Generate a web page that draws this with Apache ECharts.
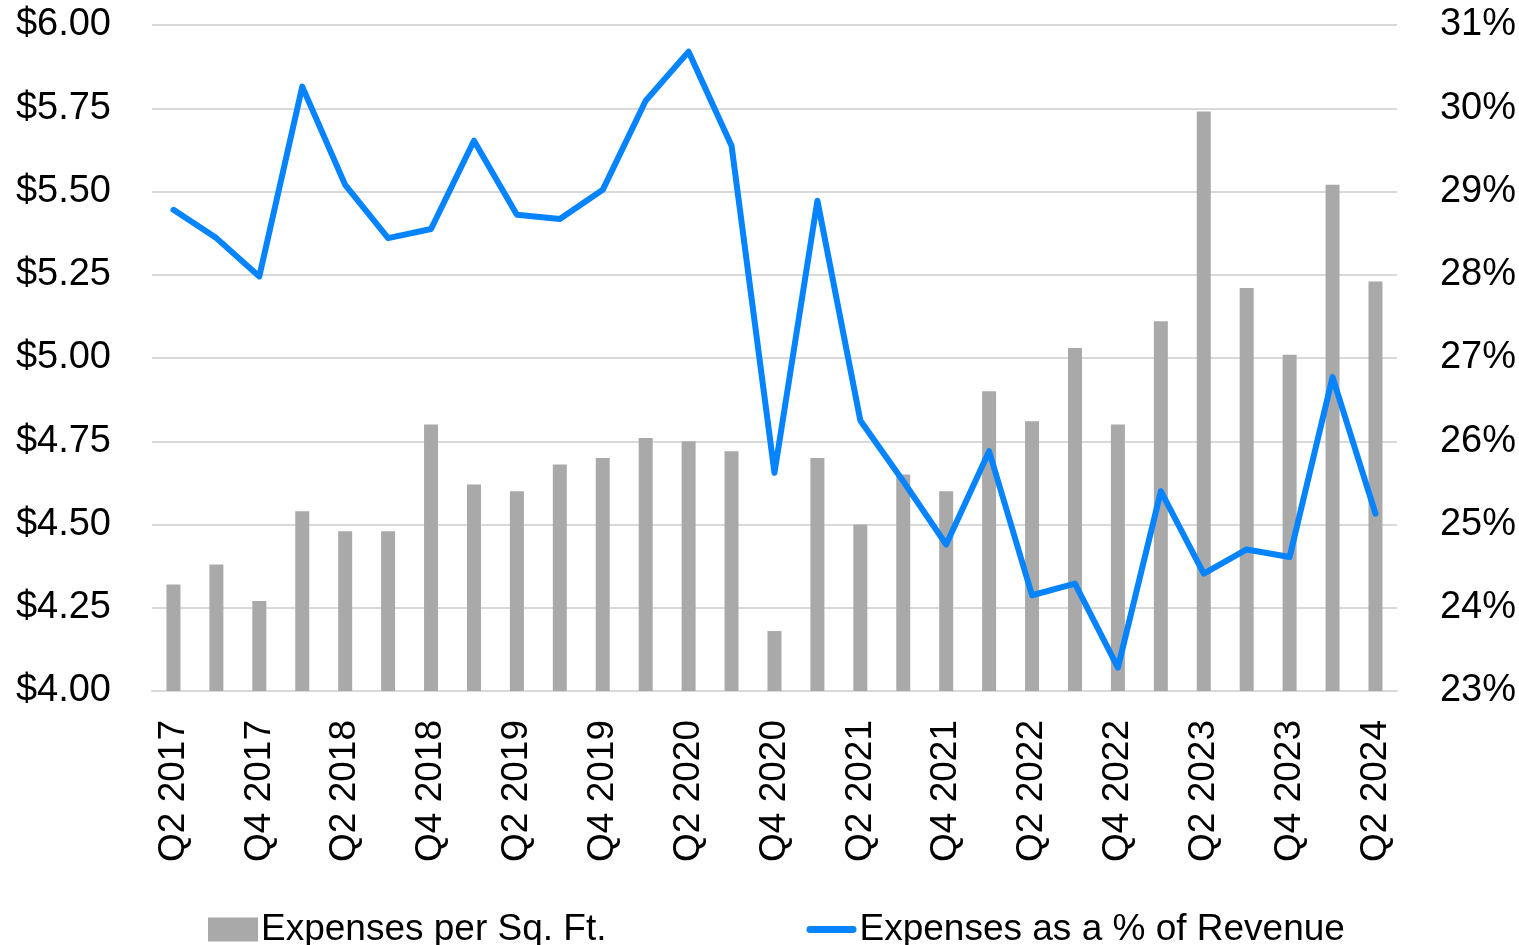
<!DOCTYPE html>
<html>
<head>
<meta charset="utf-8">
<script src="https://cdn.jsdelivr.net/npm/echarts@6/dist/echarts.min.js"></script>
<style>
html,body{margin:0;padding:0;background:#fff;}
#chart{width:1519px;height:945px;}
</style>
</head>
<body>
<div id="chart"></div>
<script>
var categories = [
  'Q2 2017','Q3 2017','Q4 2017',
  'Q1 2018','Q2 2018','Q3 2018','Q4 2018',
  'Q1 2019','Q2 2019','Q3 2019','Q4 2019',
  'Q1 2020','Q2 2020','Q3 2020','Q4 2020',
  'Q1 2021','Q2 2021','Q3 2021','Q4 2021',
  'Q1 2022','Q2 2022','Q3 2022','Q4 2022',
  'Q1 2023','Q2 2023','Q3 2023','Q4 2023',
  'Q1 2024','Q2 2024'
];
var expensesPerSqFt = [
  4.32, 4.38, 4.27,
  4.54, 4.48, 4.48, 4.80,
  4.62, 4.60, 4.68, 4.70,
  4.76, 4.75, 4.72, 4.18,
  4.70, 4.50, 4.65, 4.60,
  4.90, 4.81, 5.03, 4.80,
  5.11, 5.74, 5.21, 5.01,
  5.52, 5.23
];
var expensesPctRevenue = [
  28.78, 28.44, 27.98,
  30.26, 29.08, 28.44, 28.55,
  29.61, 28.72, 28.67, 29.02,
  30.09, 30.68, 29.55, 25.62,
  28.89, 26.25, 25.52, 24.76,
  25.88, 24.15, 24.29, 23.28,
  25.40, 24.41, 24.70, 24.61,
  26.77, 25.13
];
var seriesNames = ['Expenses per Sq. Ft.', 'Expenses as a % of Revenue'];

var FONT = '"Liberation Sans", Arial, sans-serif';
var chart = echarts.init(document.getElementById('chart'), null, {renderer: 'canvas'});
chart.setOption({
  animation: false,
  backgroundColor: '#ffffff',
  textStyle: {fontFamily: FONT, color: '#000'},
  grid: {left: 152, right: 115, top: 25, bottom: 254, containLabel: false},
  legend: {
    left: 203,
    top: 906,
    itemWidth: 50,
    itemHeight: 24,
    itemGap: 200,
    textStyle: {fontFamily: FONT, fontSize: 37, color: '#000', padding: [0,0,0,-2]},
    data: [
      {name: seriesNames[0], icon: 'rect'},
      {name: seriesNames[1], icon: 'path://M4,0 H54 A4,4 0 0 1 54,8 H4 A4,4 0 0 1 4,0 Z'}
    ]
  },
  xAxis: {
    type: 'category',
    data: categories,
    boundaryGap: true,
    axisLine: {show: true, lineStyle: {color: '#D9D9D9', width: 2}},
    axisTick: {show: false},
    axisLabel: {
      interval: 1,
      rotate: 90,
      margin: 29,
      fontSize: 37,
      fontFamily: FONT,
      color: '#000'
    }
  },
  yAxis: [
    {
      type: 'value',
      min: 4,
      max: 6,
      interval: 0.25,
      axisLine: {show: false},
      axisTick: {show: false},
      splitLine: {show: true, lineStyle: {color: '#D9D9D9', width: 2}},
      axisLabel: {
        margin: 41,
        fontSize: 38,
        fontFamily: FONT,
        color: '#000',
        formatter: function (v) { return '$' + v.toFixed(2); }
      }
    },
    {
      type: 'value',
      min: 23,
      max: 31,
      interval: 1,
      axisLine: {show: false},
      axisTick: {show: false},
      splitLine: {show: false},
      axisLabel: {
        margin: 43,
        fontSize: 38,
        fontFamily: FONT,
        color: '#000',
        formatter: function (v) { return v + '%'; }
      }
    }
  ],
  series: [
    {
      name: seriesNames[0],
      type: 'bar',
      yAxisIndex: 0,
      data: expensesPerSqFt,
      barWidth: 14,
      itemStyle: {color: '#A9A9A9'}
    },
    {
      name: seriesNames[1],
      type: 'line',
      yAxisIndex: 1,
      data: expensesPctRevenue,
      symbol: 'none',
      showSymbol: false,
      lineStyle: {color: '#0683FF', width: 6, cap: 'round', join: 'round'},
      itemStyle: {color: '#0683FF'}
    }
  ]
});
</script>
</body>
</html>
